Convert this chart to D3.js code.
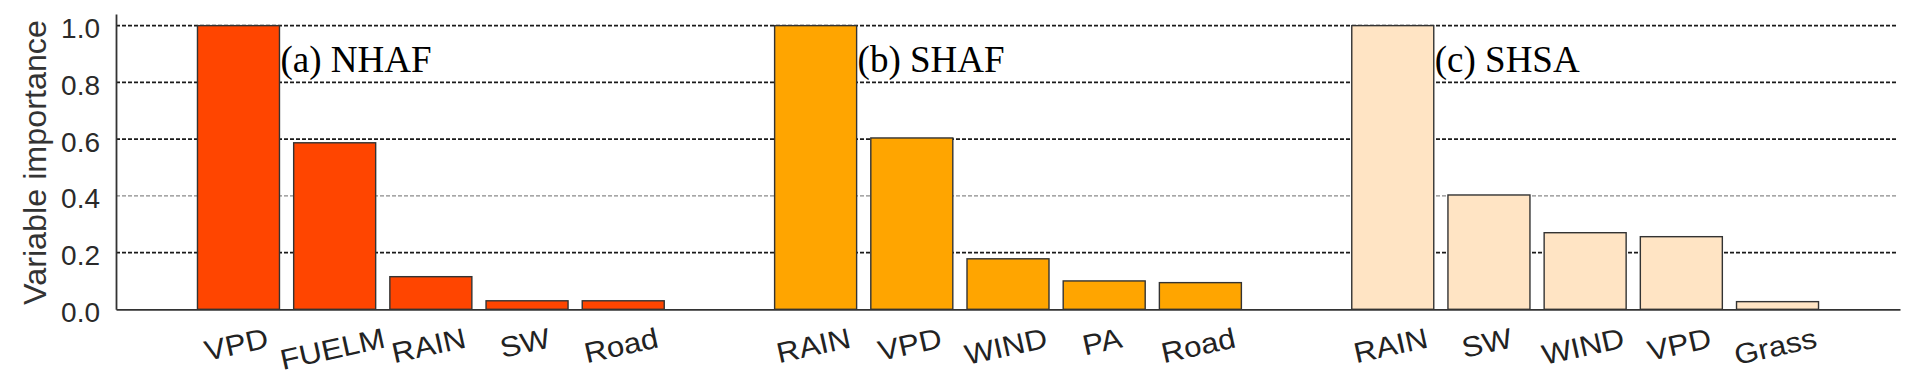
<!DOCTYPE html>
<html>
<head>
<meta charset="utf-8">
<script src="https://cdn.jsdelivr.net/npm/d3@7"></script>
<style>
  html, body { margin: 0; padding: 0; background: #fff; }
  svg { display: block; }
</style>
</head>
<body>
<svg id="chart" width="1920" height="389"></svg>
<script>
// ---- data ----
const panelLabels = ["(a) NHAF", "(b) SHAF", "(c) SHSA"];
const categoriesNHAF = ["VPD", "FUELM", "RAIN", "SW", "Road"];
const valuesNHAF     = [1.0, 0.587, 0.115, 0.030, 0.030];
const categoriesSHAF = ["RAIN", "VPD", "WIND", "PA", "Road"];
const valuesSHAF     = [1.0, 0.604, 0.178, 0.100, 0.094];
const categoriesSHSA = ["RAIN", "SW", "WIND", "VPD", "Grass"];
const valuesSHSA     = [1.0, 0.403, 0.270, 0.256, 0.027];
const yTicks = [0, 0.2, 0.4, 0.6, 0.8, 1.0];
const yTitle = "Variable importance";
const groupColors = ["#FF4500", "#FFA500", "#FFE4C4"];

// ---- build keyed slots (spacer slot between groups) ----
const groups = [
  {cats: categoriesNHAF, vals: valuesNHAF},
  {cats: categoriesSHAF, vals: valuesSHAF},
  {cats: categoriesSHSA, vals: valuesSHSA}
];
const slots = [];
const bars = [];
groups.forEach((g, gi) => {
  g.cats.forEach((c, i) => {
    const key = gi + "_" + i;
    slots.push(key);
    bars.push({key, cat: c, val: g.vals[i], group: gi, idx: i});
  });
  if (gi < groups.length - 1) slots.push("gap" + gi);
});

const svg = d3.select("#chart");
const left = 116, right = 1900, y0 = 309.3, yTop = 14;

const x = d3.scaleBand().domain(slots).range([left, right])
  .paddingInner(0.1475).paddingOuter(0.847);
const y = d3.scaleLinear().domain([0, 1.041]).range([y0, yTop]);

// gridlines
svg.append("g").selectAll("line")
  .data(yTicks.filter(t => t > 0))
  .join("line")
  .attr("x1", left).attr("x2", 1898)
  .attr("y1", d => y(d)).attr("y2", d => y(d))
  .attr("stroke", d => Math.abs(d - 0.4) < 1e-9 ? "#8a8a8a" : "#1a1a1a")
  .attr("stroke-width", d => Math.abs(d - 0.4) < 1e-9 ? 1.4 : 1.8)
  .attr("stroke-dasharray", "4,2");

// bars
svg.append("g").selectAll("rect")
  .data(bars)
  .join("rect")
  .attr("x", d => x(d.key))
  .attr("width", x.bandwidth())
  .attr("y", d => y(d.val))
  .attr("height", d => y(0) - y(d.val))
  .attr("fill", d => groupColors[d.group])
  .attr("stroke", "#333")
  .attr("stroke-width", 1.4);

// y axis
const yAxis = svg.append("g")
  .attr("transform", `translate(${left},0)`)
  .call(d3.axisLeft(y).tickValues(yTicks).tickFormat(d3.format(".1f"))
        .tickSize(0).tickSizeOuter(0).tickPadding(16));
yAxis.select(".domain").attr("stroke", "#333").attr("stroke-width", 1.8);
yAxis.selectAll("text")
  .attr("font-family", "'Liberation Sans', Arial, sans-serif")
  .attr("font-size", 28)
  .attr("fill", "#2a2a2a")
  .attr("dy", 12);

// x axis (line only)
const xAxis = svg.append("g")
  .attr("transform", `translate(0,${y0})`)
  .call(d3.axisBottom(x).tickSize(0).tickSizeOuter(0).tickFormat(""));
xAxis.select(".domain").attr("stroke", "#333").attr("stroke-width", 1.8);
xAxis.selectAll(".tick").remove();

// x labels (rotated, right ends aligned)
const theta = 12.5, sx = 1.1, labelY = 347;
const lab = svg.append("g").selectAll("text")
  .data(bars)
  .join("text")
  .attr("font-family", "'Liberation Sans', Arial, sans-serif")
  .attr("font-size", 28.5)
  .attr("fill", "#222")
  .attr("text-anchor", "end")
  .text(d => d.cat);
lab.each(function(d) {
  const L = this.getComputedTextLength() * sx;
  const cx = x(d.key) + x.bandwidth() / 2;
  const xe = cx + (L / 2) * Math.cos(theta * Math.PI / 180);
  d3.select(this).attr("transform", `translate(${xe},${labelY}) rotate(${-theta}) scale(${sx},1)`);
});

// panel labels
svg.append("g").selectAll("text")
  .data(panelLabels)
  .join("text")
  .attr("x", (d, i) => x(i + "_0") + x.bandwidth() + 1)
  .attr("y", 72)
  .attr("font-family", "'Liberation Serif', 'Times New Roman', serif")
  .attr("font-size", 37)
  .attr("fill", "#000")
  .text(d => d);

// y title
svg.append("text")
  .attr("transform", "translate(46,162.5) rotate(-90)")
  .attr("text-anchor", "middle")
  .attr("font-family", "'Liberation Sans', Arial, sans-serif")
  .attr("font-size", 31)
  .attr("fill", "#333")
  .attr("textLength", 285)
  .attr("lengthAdjust", "spacingAndGlyphs")
  .text(yTitle);
</script>
</body>
</html>
